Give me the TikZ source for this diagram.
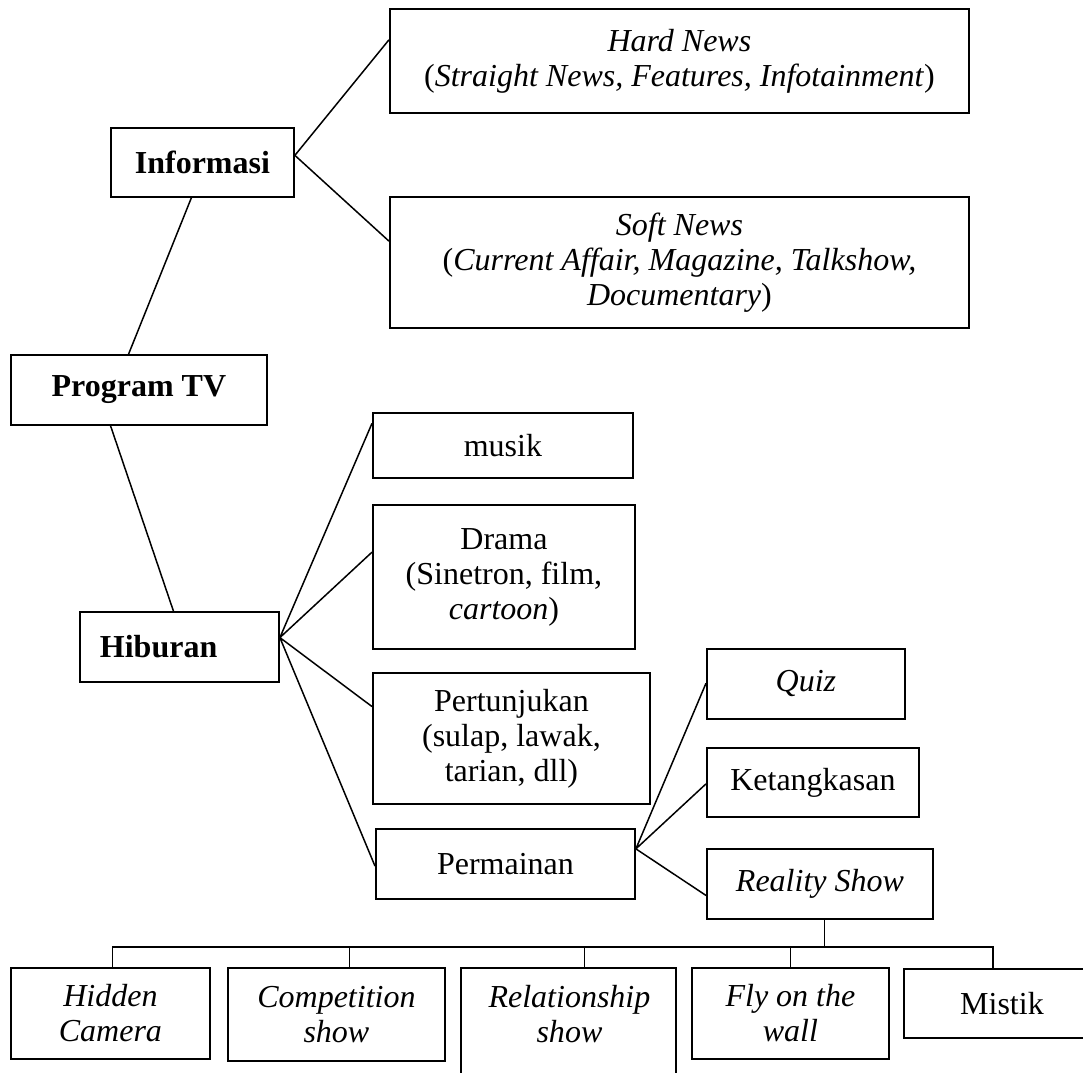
\documentclass[tikz,border=0pt]{standalone}
\usepackage{fontspec}
\setmainfont{Liberation Serif}
\usetikzlibrary{positioning,calc}
\tikzset{boxsize/.style 2 args={minimum width=#1*0.4pt,minimum height=#2*0.4pt}}

\begin{document}
\begin{tikzpicture}[x=0.4pt,y=-0.4pt,every node/.style={block},
				block/.style={draw,rectangle,line width=0.75pt,inner sep=0pt,align=center,anchor=north west,
					font=\fontsize{12.8}{14}\selectfont},
				link/.style={line width=0.6pt}]
				\useasboundingbox (0,0) rectangle (1083,1072);
				\clip (0,0) rectangle (1083,1072);
				\node (hard)  [boxsize={579}{104}] at (389,8)   {\textit{Hard News}\\(\textit{Straight News, Features, Infotainment})};
				\node (info)  [boxsize={183}{69}]  at (110,127) {\textbf{Informasi}};
				\node (soft)  [boxsize={579}{131}] at (389,196) {\textit{Soft News}\\(\textit{Current Affair, Magazine, Talkshow,}\\\textit{Documentary})};
				\node (prog)  [boxsize={256}{70}]  at (10,354)  {\textbf{Program TV}};
				\node (musik) [boxsize={260}{65}]  at (372,412) {musik};
				\node (drama) [boxsize={262}{144}] at (372,504) {Drama\\(Sinetron, film,\\\textit{cartoon})};
				\node (hib)   [boxsize={199}{70},inner xsep=8pt,text width=63.6pt,align=left] at (79,611) {\textbf{Hiburan}};
				\node (pert)  [boxsize={277}{131}] at (372,672) {Pertunjukan\\(sulap, lawak,\\tarian, dll)};
				\node (perm)  [boxsize={259}{70}]  at (375,828) {Permainan};
				\node (quiz)  [boxsize={198}{70}]  at (706,648) {\textit{Quiz}};
				\node (ket)   [boxsize={212}{69}]  at (706,747) {Ketangkasan};
				\node (real)  [boxsize={226}{70}]  at (706,848) {\textit{Reality Show}};
				\node (hid)   [boxsize={199}{91}]  at (10,967)  {\textit{Hidden}\\\textit{Camera}};
				\node (comp)  [boxsize={217}{93}]  at (227,967) {\textit{Competition}\\\textit{show}};
				\node (rel)   [boxsize={215}{91},draw=none] at (461,968) {\textit{Relationship}\\\textit{show}};
				\node (fly)   [boxsize={197}{91}]  at (691,967) {\textit{Fly on the}\\\textit{wall}};
				\node (mis)   [boxsize={196}{69}]  at (903,968) {Mistik};
				\draw[line width=0.75pt] (rel.north west) rectangle ++(215,130);
				
				\draw[link] ($(info.north east)!.4!(info.south east)$) -- ($(hard.north west)!.3!(hard.south west)$);
				\draw[link] ($(info.north east)!.4!(info.south east)$) -- ($(soft.north west)!.34!(soft.south west)$);
				\draw[link] ($(info.south west)!.44!(info.south east)$) -- ($(prog.north west)!.46!(prog.north east)$);
				\draw[link] ($(prog.south west)!.39!(prog.south east)$) -- ($(hib.north west)!.47!(hib.north east)$);
				\draw[link] ($(hib.north east)!.37!(hib.south east)$) -- ($(musik.north west)!.17!(musik.south west)$)
					($(hib.north east)!.37!(hib.south east)$) -- ($(drama.north west)!.33!(drama.south west)$)
					($(hib.north east)!.37!(hib.south east)$) -- ($(pert.north west)!.26!(pert.south west)$)
					($(hib.north east)!.37!(hib.south east)$) -- ($(perm.north west)!.53!(perm.south west)$);
				\draw[link] ($(perm.north east)!.29!(perm.south east)$) -- ($(quiz.north west)!.49!(quiz.south west)$)
					($(perm.north east)!.29!(perm.south east)$) -- ($(ket.north west)!.52!(ket.south west)$)
					($(perm.north east)!.29!(perm.south east)$) -- ($(real.north west)!.66!(real.south west)$);
				
				\coordinate (bus)     at (0,947);
				\coordinate (realbot) at ($(real.south west)!.52!(real.south east)$);
				\coordinate (hidtop)  at ($(hid.north west)!.51!(hid.north east)$);
				\coordinate (comptop) at ($(comp.north west)!.56!(comp.north east)$);
				\coordinate (reltop)  at ($(rel.north west)!.57!(rel.north east)$);
				\coordinate (flytop)  at ($(fly.north west)!.5!(fly.north east)$);
				\coordinate (mistop)  at ($(mis.north west)+(90,0)$);
				\draw[link] (hidtop) -- (hidtop |- bus) -- (mistop |- bus) -- (mistop);
				\foreach \t in {realbot,comptop,reltop,flytop}
					\draw[link] (\t) -- (\t |- bus);
			\end{tikzpicture}
\end{document}
